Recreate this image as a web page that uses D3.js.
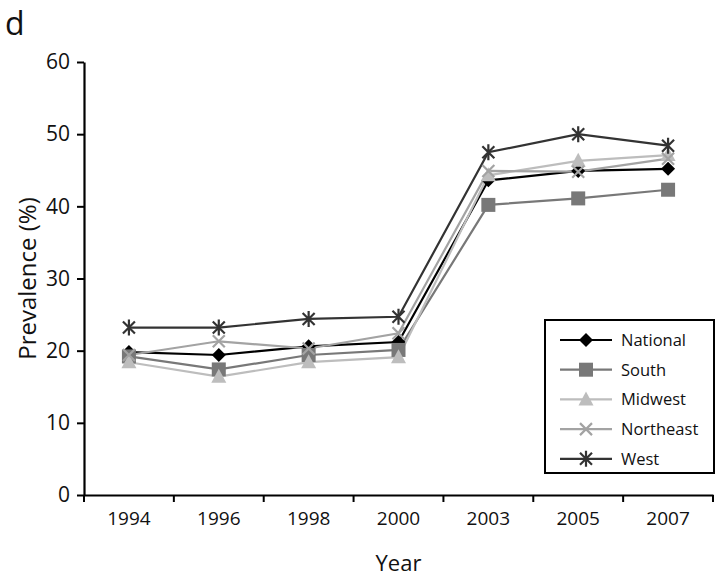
<!DOCTYPE html>
<html>
<head>
<meta charset="utf-8">
<script src="https://cdn.jsdelivr.net/npm/d3@7"></script>
<style>
  body { margin: 0; background: #fff; }
  svg { font-family: "Open Sans", "Noto Sans", sans-serif; }
</style>
</head>
<body>
<svg id="graphic" width="717" height="579"></svg>
<script>
const years = ['1994', '1996', '1998', '2000', '2003', '2005', '2007'];
const national = [19.8, 19.4, 20.6, 21.2, 43.6, 44.9, 45.2];
const south = [19.2, 17.4, 19.4, 20.1, 40.2, 41.1, 42.3];
const midwest = [18.4, 16.4, 18.4, 19.1, 44.3, 46.3, 47.1];
const northeast = [19.4, 21.3, 20.3, 22.4, 44.9, 44.8, 46.6];
const west = [23.2, 23.2, 24.4, 24.7, 47.5, 50.0, 48.4];
const yTicks = [0, 10, 20, 30, 40, 50, 60];

const series = [
  {name: 'National', values: national, color: '#000000', symbol: 'diamond'},
  {name: 'South', values: south, color: '#787878', symbol: 'square'},
  {name: 'Midwest', values: midwest, color: '#bdbdbd', symbol: 'triangle'},
  {name: 'Northeast', values: northeast, color: '#a3a3a3', symbol: 'x'},
  {name: 'West', values: west, color: '#333333', symbol: 'star'},
];

const margins = {top: 62, right: 4, bottom: 84, left: 84};
const width = 717, height = 579;
const svg = d3.select('#graphic');

const xScale = d3.scaleBand()
    .domain(years)
    .range([margins.left, width - margins.right]);

const yScale = d3.scaleLinear()
    .domain([0, 60])
    .range([height - margins.bottom, margins.top]);

const cx = (d) => xScale(d) + xScale.bandwidth() / 2;

// draw a marker shape centred on 0,0
function marker(g, symbol, color) {
  if (symbol === 'diamond') {
    g.append('path').attr('d', 'M0,-7L7,0L0,7L-7,0Z').attr('fill', color);
  } else if (symbol === 'square') {
    g.append('rect').attr('x', -7).attr('y', -7).attr('width', 14).attr('height', 14).attr('fill', color);
  } else if (symbol === 'triangle') {
    g.append('path').attr('d', 'M0,-8L7.5,6L-7.5,6Z').attr('fill', color);
  } else if (symbol === 'x') {
    g.append('path').attr('d', 'M-6,-6L6,6M-6,6L6,-6')
        .attr('stroke', color).attr('stroke-width', 2.2).attr('fill', 'none');
  } else if (symbol === 'star') {
    g.append('path').attr('d', 'M-6,-6L6,6M-6,6L6,-6M0,-8L0,8')
        .attr('stroke', color).attr('stroke-width', 2.2).attr('fill', 'none');
  }
}

// axes
const xAxis = d3.axisBottom(xScale).tickSize(0).tickPadding(17);
const gx = svg.append('g')
    .attr('transform', `translate(0, ${yScale(0)})`)
    .call(xAxis)
    .attr('font-family', null)
    .attr('font-size', null);
gx.select('.domain').attr('stroke', '#000').attr('stroke-width', 2.2);
gx.selectAll('.tick text').attr('font-size', 19).attr('fill', '#111');
gx.selectAll('.band-tick')
    .data(d3.range(years.length + 1))
    .enter()
    .append('line')
    .attr('x1', (i) => margins.left + i * xScale.step())
    .attr('x2', (i) => margins.left + i * xScale.step())
    .attr('y1', 0)
    .attr('y2', 7)
    .attr('stroke', '#000')
    .attr('stroke-width', 2);

const yAxis = d3.axisLeft(yScale).tickValues(yTicks).tickSize(7).tickSizeOuter(0).tickPadding(7);
const gy = svg.append('g')
    .attr('transform', `translate(${margins.left}, 0)`)
    .call(yAxis)
    .attr('font-family', null)
    .attr('font-size', null);
gy.select('.domain').attr('stroke', '#000').attr('stroke-width', 2.2);
gy.selectAll('.tick line').attr('stroke', '#000').attr('stroke-width', 2);
gy.selectAll('.tick text').attr('font-size', 21).attr('fill', '#111');

// lines
const line = d3.line()
    .x((d, i) => cx(years[i]))
    .y((d) => yScale(d));

series.forEach((s) => {
  svg.append('path')
      .datum(s.values)
      .attr('d', line)
      .attr('fill', 'none')
      .attr('stroke', s.color)
      .attr('stroke-width', 2.2);
});

series.forEach((s) => {
  svg.selectAll(null)
      .data(s.values)
      .enter()
      .append('g')
      .attr('transform', (d, i) => `translate(${cx(years[i])}, ${yScale(d)})`)
      .each(function() { marker(d3.select(this), s.symbol, s.color); });
});

// axis titles
svg.append('text')
    .attr('x', (margins.left + width - margins.right) / 2)
    .attr('y', 571)
    .attr('text-anchor', 'middle')
    .attr('font-size', 22)
    .attr('fill', '#111')
    .text('Year');

svg.append('text')
    .attr('transform', `translate(36, ${(yScale(0) + yScale(60)) / 2}) rotate(-90)`)
    .attr('text-anchor', 'middle')
    .attr('font-size', 24)
    .attr('fill', '#111')
    .text('Prevalence (%)');

svg.append('text')
    .attr('x', 5)
    .attr('y', 35)
    .attr('font-size', 32)
    .attr('fill', '#111')
    .text('d');

// legend
const legend = svg.append('g').attr('transform', 'translate(545, 320)');
legend.append('rect')
    .attr('width', 169)
    .attr('height', 153)
    .attr('fill', '#fff')
    .attr('stroke', '#000')
    .attr('stroke-width', 2);

series.forEach((s, i) => {
  const row = legend.append('g').attr('transform', `translate(0, ${20 + i * 29.7})`);
  row.append('line')
      .attr('x1', 15).attr('x2', 67)
      .attr('stroke', s.color).attr('stroke-width', 2.2);
  marker(row.append('g').attr('transform', 'translate(41, 0)'), s.symbol, s.color);
  row.append('text')
      .attr('x', 76)
      .attr('y', 6)
      .attr('font-size', 16.5)
      .attr('fill', '#111')
      .text(s.name);
});
</script>
</body>
</html>
